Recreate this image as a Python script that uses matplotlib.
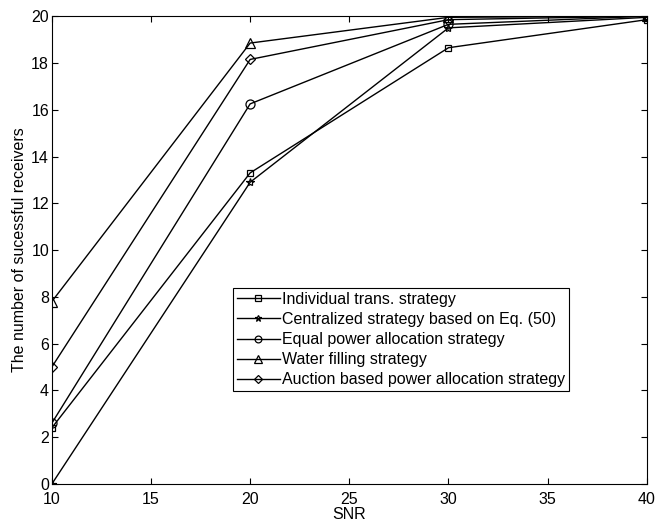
import matplotlib.pyplot as plt

plt.rcParams['font.family'] = ['Liberation Sans', 'DejaVu Sans']

# Data
snr = [10, 20, 30, 40]
individual = [2.4, 13.3, 18.65, 19.85]
centralized = [0, 12.9, 19.5, 19.95]
equal_power = [2.6, 16.25, 19.65, 20]
water_filling = [7.8, 18.85, 19.95, 20]
auction = [5.0, 18.15, 19.85, 20]

labels = ["Individual trans. strategy",
          "Centralized strategy based on Eq. (50)",
          "Equal power allocation strategy",
          "Water filling strategy",
          "Auction based power allocation strategy"]
series = [individual, centralized, equal_power, water_filling, auction]
markers = ["s", "*", "o", "^", "D"]
msizes = [5, 6, 6.5, 7, 5]

fig = plt.figure(figsize=(6.56, 5.21), dpi=100)
ax = fig.add_axes([0.079, 0.071, 0.907, 0.898])

for ys, lab, m, ms in zip(series, labels, markers, msizes):
    ax.plot(snr, ys, color="black", linewidth=1, marker=m, markersize=ms,
            markerfacecolor="none", markeredgecolor="black",
            markeredgewidth=0.9, label=lab)

ax.set_xlim(10, 40)
ax.set_ylim(0, 20)
ax.set_xticks([10, 15, 20, 25, 30, 35, 40])
ax.set_yticks(range(0, 21, 2))
ax.tick_params(direction="in", top=True, right=True, labelsize=11.5, length=4)
ax.tick_params(axis="x", pad=5.5)
ax.tick_params(axis="y", pad=2)
ax.set_xlabel("SNR", fontsize=11.5, labelpad=0)
ax.set_ylabel("The number of sucessful receivers", fontsize=11.5, labelpad=3)

leg = ax.legend(loc="upper left", bbox_to_anchor=(0.304, 0.419), fontsize=11.5,
                fancybox=False, edgecolor="black", framealpha=1,
                handlelength=2.7, borderpad=0.25, labelspacing=0.32,
                handletextpad=0.15, borderaxespad=0, markerscale=0.75)
leg.get_frame().set_linewidth(0.8)

fig.savefig("out.png", dpi=100)
